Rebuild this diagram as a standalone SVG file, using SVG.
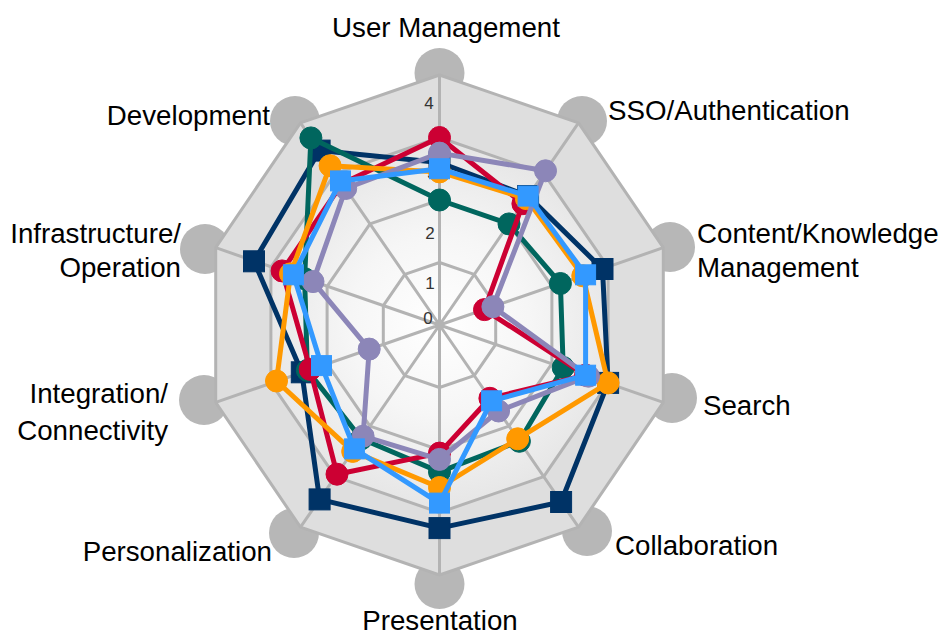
<svg xmlns="http://www.w3.org/2000/svg" width="943" height="636" viewBox="0 0 943 636">
<defs>
<radialGradient id="floor" cx="439.5" cy="325" r="200" gradientUnits="userSpaceOnUse">
<stop offset="0" stop-color="#ffffff"/>
<stop offset="0.45" stop-color="#f6f6f6"/>
<stop offset="1" stop-color="#e3e3e3"/>
</radialGradient>
<style>
.bolt{fill:#b7b7b7}
.grid{fill:none;stroke:#b3b3b3;stroke-width:3;stroke-linejoin:round}
.lbl{font-family:"Liberation Sans",Arial,sans-serif;font-size:27.7px;fill:#000}
.tick{font-family:"Liberation Sans",Arial,sans-serif;font-size:17px;fill:#333}
.s{fill:none;stroke-width:5;stroke-linejoin:round}
.navy{stroke:#003366;fill:#003366}
.teal{stroke:#00665e;fill:#00665e}
.red{stroke:#cc0033;fill:#cc0033}
.orange{stroke:#ff9900;fill:#ff9900}
.purple{stroke:#8c86b8;fill:#8c86b8}
.lblue{stroke:#3399ff;fill:#3399ff}
</style>
</defs>
<rect width="943" height="636" fill="#ffffff"/>

<g id="frame">
<g id="bolts">
<circle class="bolt" cx="439.5" cy="73" r="25"/>
<circle class="bolt" cx="582" cy="121" r="25"/>
<circle class="bolt" cx="670" cy="247" r="25"/>
<circle class="bolt" cx="672" cy="398" r="25"/>
<circle class="bolt" cx="587" cy="531" r="25"/>
<circle class="bolt" cx="439.5" cy="584" r="25"/>
<circle class="bolt" cx="294" cy="533" r="25"/>
<circle class="bolt" cx="204" cy="400" r="25"/>
<circle class="bolt" cx="205" cy="249" r="25"/>
<circle class="bolt" cx="295" cy="121" r="25"/>
</g>
<polygon class="grid" style="fill:#dedede" points="439.5,75 578.5,122.8 663.3,247.7 663.3,402.3 578.5,527.2 439.5,575 300.5,527.2 215.7,402.3 215.7,247.7 300.5,122.8"/>
<polygon class="grid" style="fill:url(#floor)" points="439.5,137.5 543.7,173.3 608.1,267.1 608.1,382.9 543.7,476.7 439.5,512.5 335.3,476.7 270.9,382.9 270.9,267.1 335.3,173.3"/>
<polygon class="grid" points="439.5,200 509,223.9 551.9,286.4 551.9,363.6 509,426.1 439.5,450 370,426.1 327.1,363.6 327.1,286.4 370,223.9"/>
<polygon class="grid" points="439.5,262.5 474.2,274.4 495.7,305.7 495.7,344.3 474.2,375.6 439.5,387.5 404.8,375.6 383.3,344.3 383.3,305.7 404.8,274.4"/>
<path class="grid" d="M439.5,325L439.5,75M439.5,325L578.5,122.8M439.5,325L663.3,247.7M439.5,325L663.3,402.3M439.5,325L578.5,527.2M439.5,325L439.5,575M439.5,325L300.5,527.2M439.5,325L215.7,402.3M439.5,325L215.7,247.7M439.5,325L300.5,122.8"/>
<text class="tick" x="428" y="324" text-anchor="middle">0</text>
<text class="tick" x="430" y="289" text-anchor="middle">1</text>
<text class="tick" x="430" y="239" text-anchor="middle">2</text>
<text class="tick" x="432" y="179" text-anchor="middle">3</text>
<text class="tick" x="429" y="109" text-anchor="middle">4</text>
</g>

<g id="labels">
<text class="lbl" x="446" y="37" text-anchor="middle">User Management</text>
<text class="lbl" x="608" y="120">SSO/Authentication</text>
<text class="lbl" x="697" y="243">Content/Knowledge</text>
<text class="lbl" x="697" y="277">Management</text>
<text class="lbl" x="703" y="415">Search</text>
<text class="lbl" x="615" y="555">Collaboration</text>
<text class="lbl" x="440" y="630" text-anchor="middle">Presentation</text>
<text class="lbl" x="272" y="561" text-anchor="end">Personalization</text>
<text class="lbl" x="168" y="403" text-anchor="end">Integration/</text>
<text class="lbl" x="168" y="440" text-anchor="end">Connectivity</text>
<text class="lbl" x="181" y="243" text-anchor="end">Infrastructure/</text>
<text class="lbl" x="181" y="277" text-anchor="end">Operation</text>
<text class="lbl" x="270" y="125" text-anchor="end">Development</text>
</g>

<g id="connectors">
<g id="series-navy" class="navy">
<polygon class="s navy" style="fill:none" points="439.5,162.5 528.1,196.1 602.5,269 608.1,382.9 561.1,502 439.5,528.1 319.6,499.4 301.8,372.3 254,261.3 319.6,150.6"/>
<rect x="429" y="152" width="21" height="21"/><rect x="517.6" y="185.6" width="21" height="21"/><rect x="592" y="258.5" width="21" height="21"/><rect x="597.6" y="372.4" width="21" height="21"/><rect x="550.6" y="491.5" width="21" height="21"/><rect x="429" y="517.6" width="21" height="21"/><rect x="309.1" y="488.9" width="21" height="21"/><rect x="291.3" y="361.8" width="21" height="21"/><rect x="243.5" y="250.8" width="21" height="21"/><rect x="309.1" y="140.1" width="21" height="21"/>
</g>
<g id="series-teal" class="teal">
<polygon class="s teal" style="fill:none" points="439.5,200 509,223.9 560.4,283.5 563.2,367.5 519.4,441.3 439.5,471.9 361.3,438.8 307.4,370.4 304.6,278.7 310.9,137.9"/>
<circle cx="439.5" cy="200" r="11"/><circle cx="509" cy="223.9" r="11"/><circle cx="560.4" cy="283.5" r="11"/><circle cx="563.2" cy="367.5" r="11"/><circle cx="519.4" cy="441.3" r="11"/><circle cx="439.5" cy="471.9" r="11"/><circle cx="361.3" cy="438.8" r="11"/><circle cx="307.4" cy="370.4" r="11"/><circle cx="304.6" cy="278.7" r="11"/><circle cx="310.9" cy="137.9" r="11"/>
</g>
<g id="series-red" class="red">
<polygon class="s red" style="fill:none" points="439.5,137.5 522.9,203.7 484.5,309.6 585.6,375.2 489.9,398.3 439.5,453.1 337,474.2 310.2,369.4 282.1,270.9 342.2,183.4"/>
<circle cx="439.5" cy="137.5" r="11"/><circle cx="522.9" cy="203.7" r="11"/><circle cx="484.5" cy="309.6" r="11"/><circle cx="585.6" cy="375.2" r="11"/><circle cx="489.9" cy="398.3" r="11"/><circle cx="439.5" cy="453.1" r="11"/><circle cx="337" cy="474.2" r="11"/><circle cx="310.2" cy="369.4" r="11"/><circle cx="282.1" cy="270.9" r="11"/><circle cx="342.2" cy="183.4" r="11"/>
</g>
<g id="series-orange" class="orange">
<polygon class="s orange" style="fill:none" points="439.5,171.9 526.4,198.6 582.8,275.8 608.1,382.9 517.7,438.8 439.5,487.5 352.7,451.4 276.5,381 290.5,273.8 330.1,165.7"/>
<circle cx="439.5" cy="171.9" r="11"/><circle cx="526.4" cy="198.6" r="11"/><circle cx="582.8" cy="275.8" r="11"/><circle cx="608.1" cy="382.9" r="11"/><circle cx="517.7" cy="438.8" r="11"/><circle cx="439.5" cy="487.5" r="11"/><circle cx="352.7" cy="451.4" r="11"/><circle cx="276.5" cy="381" r="11"/><circle cx="290.5" cy="273.8" r="11"/><circle cx="330.1" cy="165.7" r="11"/>
</g>
<g id="series-purple" class="purple">
<polygon class="s purple" style="fill:none" points="439.5,153.1 545.5,170.8 492.9,306.7 588.5,376.2 498.6,411 439.5,459.4 363.1,436.2 369.2,349.1 313,281.6 345.7,188.5"/>
<circle cx="439.5" cy="153.1" r="11"/><circle cx="545.5" cy="170.8" r="11"/><circle cx="492.9" cy="306.7" r="11"/><circle cx="588.5" cy="376.2" r="11"/><circle cx="498.6" cy="411" r="11"/><circle cx="439.5" cy="459.4" r="11"/><circle cx="363.1" cy="436.2" r="11"/><circle cx="369.2" cy="349.1" r="11"/><circle cx="313" cy="281.6" r="11"/><circle cx="345.7" cy="188.5" r="11"/>
</g>
<g id="series-lightblue" class="lblue">
<polygon class="s lblue" style="fill:none" points="439.5,168.75 528.1,196.1 585.6,274.8 585.6,375.2 491.6,400.8 439.5,503.1 354.4,448.9 321.5,365.6 293.4,274.8 340.5,180.9"/>
<rect x="429.5" y="158.75" width="20" height="20"/><rect x="518.1" y="186.1" width="20" height="20"/><rect x="575.6" y="264.8" width="20" height="20"/><rect x="575.6" y="365.2" width="20" height="20"/><rect x="481.6" y="390.8" width="20" height="20"/><rect x="429.5" y="493.1" width="20" height="20"/><rect x="344.4" y="438.9" width="20" height="20"/><rect x="311.5" y="355.6" width="20" height="20"/><rect x="283.4" y="264.8" width="20" height="20"/><rect x="330.5" y="170.9" width="20" height="20"/>
</g>
</g>
</svg>
